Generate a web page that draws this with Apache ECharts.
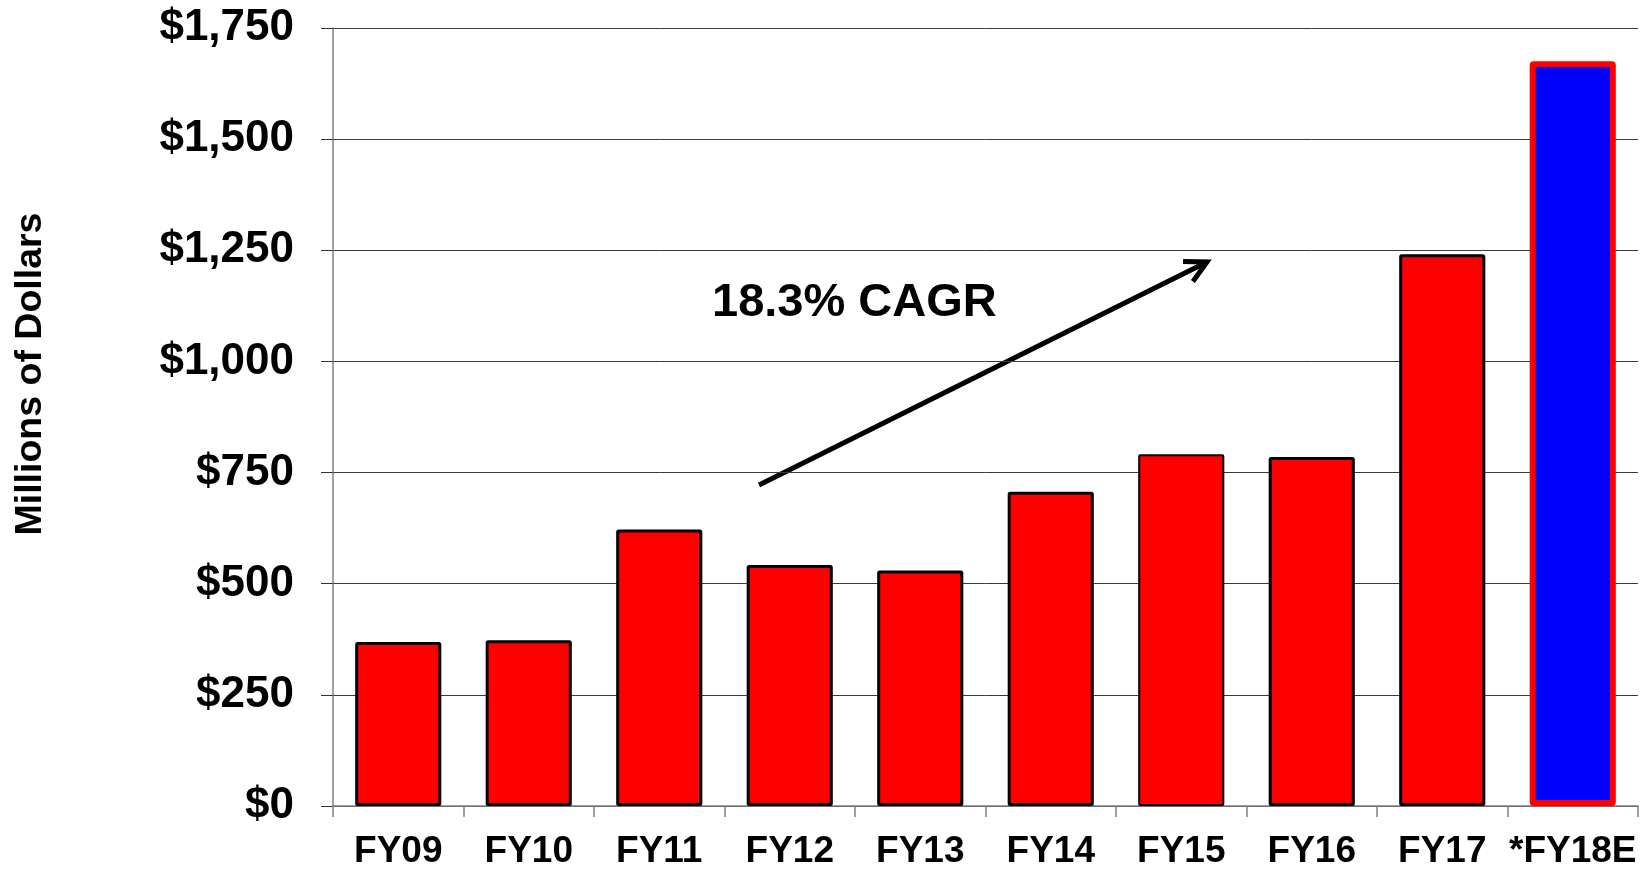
<!DOCTYPE html>
<html>
<head>
<meta charset="utf-8">
<script src="https://cdn.jsdelivr.net/npm/echarts@6/dist/echarts.min.js"></script>
<style>
html,body{margin:0;padding:0;background:#fff;}
#chart{width:1643px;height:870px;}
</style>
</head>
<body>
<div id="chart"></div>
<script>
const categories = ['FY09','FY10','FY11','FY12','FY13','FY14','FY15','FY16','FY17','*FY18E'];
const revenue = [369, 373, 622, 542, 530, 707, 791, 785, 1241, 1675];
const yTickLabels = ['$0','$250','$500','$750','$1,000','$1,250','$1,500','$1,750'];
const yAxisTitle = 'Millions of Dollars';
const cagrLabel = '18.3% CAGR';

const FONT = '"Liberation Sans", Arial, Helvetica, sans-serif';
const chart = echarts.init(document.getElementById('chart'));

const barData = revenue.map((v, i) => {
  const isEstimate = i === revenue.length - 1;
  return {
    value: v,
    itemStyle: isEstimate
      ? { color: '#0000ff', borderColor: '#ff0000', borderWidth: 6 }
      : { color: '#ff0000', borderColor: '#000000', borderWidth: (i === 6 ? 2 : 3) }
  };
});

// arrow annotation geometry (pixels)
const ax0 = [759, 485], ax1 = [1207, 262];
const ang = Math.atan2(ax1[1] - ax0[1], ax1[0] - ax0[0]);
const headLen = 24, headAng = Math.PI / 6.5;
const h1 = [ax1[0] - headLen * Math.cos(ang - headAng), ax1[1] - headLen * Math.sin(ang - headAng)];
const h2 = [ax1[0] - headLen * Math.cos(ang + headAng), ax1[1] - headLen * Math.sin(ang + headAng)];

chart.setOption({
  animation: false,
  backgroundColor: '#ffffff',
  grid: { left: 333, right: 5, top: 28, bottom: 62, containLabel: false },
  xAxis: {
    type: 'category',
    data: categories,
    boundaryGap: true,
    axisLine: { show: true, lineStyle: { color: '#808080', width: 1.5 } },
    axisTick: { show: true, length: 11, lineStyle: { color: '#808080', width: 1.5 } },
    axisLabel: {
      margin: 27, color: '#000', fontFamily: FONT, fontWeight: 'bold', fontSize: 37, interval: 0
    },
    splitLine: { show: false }
  },
  yAxis: {
    type: 'value',
    min: 0, max: 1750, interval: 250,
    axisLine: { show: true, lineStyle: { color: '#808080', width: 1.5 } },
    axisTick: { show: true, length: 12, lineStyle: { color: '#333333', width: 1 } },
    axisLabel: {
      margin: 39, color: '#000', fontFamily: FONT, fontWeight: 'bold', fontSize: 44,
      formatter: (v) => yTickLabels[Math.round(v / 250)]
    },
    splitLine: { show: true, lineStyle: { color: '#3a3a3a', width: 1 } }
  },
  series: [{
    type: 'bar',
    data: barData,
    barWidth: '66%',
    itemStyle: { borderRadius: 1 }
  }],
  graphic: [
    {
      type: 'text',
      x: 31, y: 374,
      rotation: Math.PI / 2,
      style: {
        text: yAxisTitle,
        font: 'bold 37.5px ' + FONT,
        fill: '#000',
        textAlign: 'center',
        textVerticalAlign: 'middle'
      }
    },
    {
      type: 'text',
      x: 712, y: 303,
      style: {
        text: cagrLabel,
        font: 'bold 47px ' + FONT,
        fill: '#000',
        textAlign: 'left',
        textVerticalAlign: 'middle'
      }
    },
    {
      type: 'line',
      shape: { x1: ax0[0], y1: ax0[1], x2: ax1[0], y2: ax1[1] },
      style: { stroke: '#000', lineWidth: 5 }
    },
    {
      type: 'polyline',
      shape: { points: [h1, ax1, h2] },
      style: { stroke: '#000', lineWidth: 5, fill: null, lineJoin: 'miter' }
    }
  ]
});
</script>
</body>
</html>
